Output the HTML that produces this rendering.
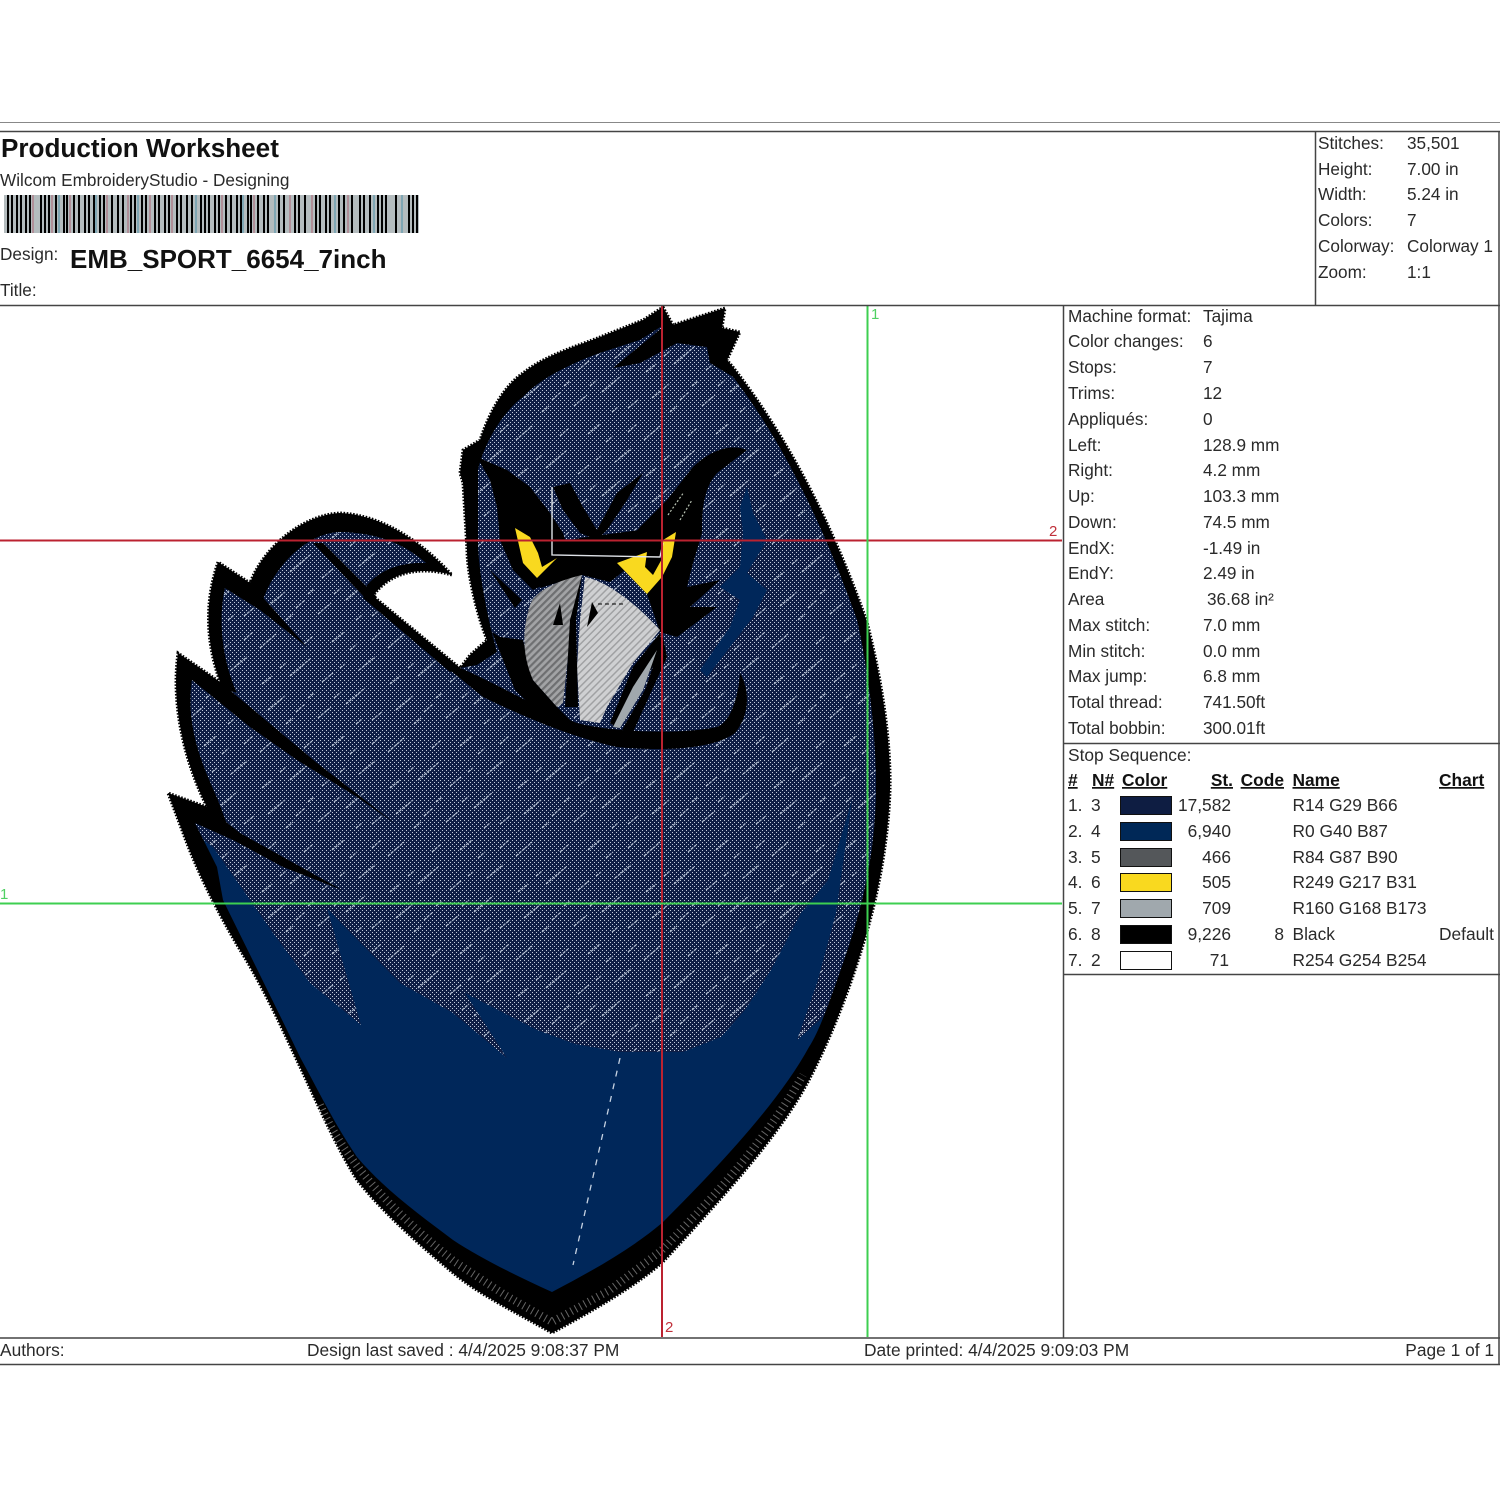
<!DOCTYPE html>
<html><head><meta charset="utf-8"><style>
html,body{margin:0;padding:0;background:#fff}
svg{display:block}
text{font-family:"Liberation Sans",Arial,sans-serif;font-size:17.2px;fill:#2a2a2a}
.b{font-weight:bold;fill:#111}
.h{font-weight:bold;fill:#111;text-decoration:underline}
.e{text-anchor:end}
.s text{font-size:17.35px}
</style></head><body>
<svg xmlns="http://www.w3.org/2000/svg" width="1500" height="1495" viewBox="0 0 1500 1495">
<defs>
<pattern id="dots" patternUnits="userSpaceOnUse" width="4" height="4"><rect x="0" y="0" width="1" height="1" fill="#c0cadb"/><rect x="2" y="2" width="1" height="1" fill="#c0cadb"/></pattern>
<pattern id="streak" patternUnits="userSpaceOnUse" width="128" height="104">
<g stroke="#aab6ca" stroke-width="1.3" fill="none" stroke-dasharray="3 1">
<path d="M4 24l16-14M34 52l20-17M76 18l12-10M103 46l16-13M12 86l17-14M62 94l13-11M90 80l19-16M48 20l8-7M116 96l10-8M24 44l6-5M6 60l10-8M66 58l11-9M40 88l9-8M94 26l7-6M116 16l9-8M78 74l7-6M52 74l6-5M100 100l6-5M30 100l7-6M84 44l5-4"/>
</g></pattern>
<pattern id="hatchL" patternUnits="userSpaceOnUse" width="5" height="5" patternTransform="rotate(-45)"><rect width="5" height="5" fill="#a2a3a5"/><rect width="5" height="2.2" fill="#6e6f71"/></pattern>
<pattern id="hatchR" patternUnits="userSpaceOnUse" width="5" height="5" patternTransform="rotate(-45)"><rect width="5" height="5" fill="#cfd0d2"/><rect width="5" height="1.5" fill="#a0a1a3"/></pattern>
<path id="outer" d="M663 307L673 325L725 308L722 328L740 332L727 360L733 367C790 440 835 530 867 622C882 680 891 740 890 790C888 850 875 905 866 935C850 990 830 1040 809 1080C780 1135 725 1195 662 1263C630 1290 590 1312 552 1333C515 1312 480 1295 453 1273C420 1245 385 1215 357 1180C335 1145 318 1105 300 1067C285 1035 265 990 240 950C225 925 200 880 183 833L168 793L207 807C188 770 170 710 178 653L220 682C205 640 205 600 218 562L250 583C262 550 300 515 340 513C385 515 425 545 452 575C420 566 390 572 373 596L460 668L470 655L487 640C475 610 467 570 467 550L463 483L460 473L463 450L480 440C490 410 505 385 523 373C545 355 580 345 600 337L643 320Z"/>
<path id="inner" d="M662 326L677 343L707 347L710 363L733 377C785 445 825 530 857 620C868 670 876 730 876 790C875 850 865 900 843 963C830 1000 820 1030 809 1047C780 1100 725 1160 662 1223C630 1250 590 1272 552 1292C515 1275 480 1258 453 1240C420 1215 385 1190 357 1157C335 1125 318 1090 300 1057C280 1015 250 955 223 900L217 867L195 823L233 840L218 800C205 770 185 730 192 680L237 693C222 660 218 620 225 588L260 610C270 570 305 533 340 532C380 533 405 545 426 563C400 562 380 570 367 585L363 598L450 670L477 665L497 652C488 620 478 570 478 540L478 470C485 440 505 410 523 397C540 378 575 362 600 353L640 340Z"/>
<clipPath id="tex"><path d="M0 300H900V950L797 1040L817 983L836 913L852 800L828 880L801 913L771 970L745 1010L721 1037L683 1052L620 1052L575 1044L537 1030L465 993L507 1058L453 1013L400 983L338 920L327 908L361 1025L310 983L273 933L213 847L150 800H0Z"/></clipPath>
</defs>
<rect width="1500" height="1495" fill="#fff"/>

<!-- artwork -->
<use href="#outer" fill="#000"/>
<use href="#outer" fill="none" stroke="#000" stroke-width="3" stroke-dasharray="1.6 1.6"/>
<use href="#inner" fill="#00275a"/>
<g clip-path="url(#tex)">
<use href="#inner" fill="#0f1e45"/>
<use href="#inner" fill="url(#dots)"/>
<use href="#inner" fill="url(#streak)"/>
</g>
<path d="M747 487L753 513L767 540L747 573L767 590L753 617L733 643L707 677L700 670L730 627L740 600L720 587L740 567L743 533L740 507Z" fill="#00275a"/>
<path d="M320 1105C345 1160 390 1210 455 1262L505 1295L552 1322L610 1290L662 1250C705 1205 760 1150 803 1075" fill="none" stroke="#fff" stroke-opacity=".4" stroke-width="8" stroke-dasharray="1 4"/>
<path d="M620 1058L573 1265" stroke="#c6d2e2" stroke-width="1.3" stroke-dasharray="6 7" fill="none"/>

<!-- crest -->
<path d="M613 368L663 327L673 325L725 308L722 328L740 332L727 360L733 367L710 363L707 347L677 343L640 363Z" fill="#000"/>
<!-- wing feathers -->
<path d="M218 562L250 583L307 647L260 610L225 588Z" fill="#000"/>
<path d="M178 653L220 682L250 707L317 763L397 825L357 797L297 760L250 727L192 680Z" fill="#000"/>
<path d="M168 793L207 807L240 833L283 857L342 890L283 867L233 840L195 823Z" fill="#000"/>
<path d="M313 543L323 543L377 597L367 600Z" fill="#000"/>
<path d="M363 598L373 596L460 668L450 672Z" fill="#000"/>
<!-- main curve under beak -->
<path d="M460 668C490 680 530 705 577 723C610 732 680 735 717 727C730 722 738 700 740 673C750 690 750 715 735 733C715 748 670 752 617 747C570 737 520 715 483 697L450 670Z" fill="#000"/>
<!-- left socket -->
<path d="M477 457L507 470L530 487L550 513L563 533L573 563L560 577L533 590L513 570L500 540L497 507L490 480Z" fill="#000"/>
<path d="M490 570L522 600L515 608Z" fill="#000"/>
<!-- V brow -->
<path d="M553 487L570 483L583 507L597 530L617 493L643 473L627 500L607 530L597 540L580 533L563 510Z" fill="#000"/>
<!-- centre band -->
<path d="M550 545L580 538L640 530L660 535L625 570L610 582L582 575L540 588Z" fill="#000"/>
<!-- right socket + brow -->
<path d="M747 450C735 445 715 446 693 467L667 500L640 527L625 545L617 563L647 594L660 632L677 637L717 607L690 607L720 580L687 587L693 563L702 533C702 515 702 490 717 473Z" fill="#000"/>
<path d="M668 515L684 492M680 520L692 500" stroke="#b9c4b4" stroke-width="1.2" stroke-dasharray="2 2" fill="none"/>
<!-- eyes -->
<path d="M515 528L530 537L538 553L542 567L557 558L537 578L523 563Z" fill="#f9d91f"/>
<path d="M676 532L672 557L662 577L647 594L617 563L647 552L645 567L653 575L663 557L663 540Z" fill="#f9d91f"/>
<!-- beak -->
<path d="M492 632L500 637L523 640L533 680L557 707L572 722L540 714L515 690Z" fill="#000"/>
<path d="M582 575C560 580 535 590 530 605C522 630 522 655 533 680L557 707L563 703L572 620Z" fill="url(#hatchL)"/>
<path d="M585 577C610 582 640 608 660 630L633 663L607 707L600 723L580 720L577 667L580 620Z" fill="url(#hatchR)"/>
<path d="M582 575L570 620L565 707L578 707L576 620Z" fill="#000"/>
<path d="M560 603L553 625L563 625Z M592 602L587 627L598 613Z" fill="#000"/>
<path d="M598 604L623 604" stroke="#000" stroke-width="1" stroke-dasharray="4 3"/>
<path d="M660 633L633 667L610 723L617 728L640 687L663 650Z" fill="#000"/>
<path d="M657 650L633 687L613 727L620 728L643 690Z" fill="#a0a8ad"/>
<path d="M663 637L667 657L633 732L622 730L645 690Z" fill="#000"/>
<!-- running lines -->
<path d="M552 487V555L660 557L663 543" fill="none" stroke="#dfe3e8" stroke-width="1.4"/>

<!-- guide lines -->
<path d="M0 540.5H1062M662 306V1337" stroke="#bb2230" stroke-width="2" fill="none"/>
<path d="M867.5 306V1337M0 903.5H1062" stroke="#3dcf50" stroke-width="2" fill="none"/>
<text x="871" y="319" style="font-size:15px;fill:#4fd062">1</text>
<text x="1049" y="536" style="font-size:15px;fill:#c0303a">2</text>
<text x="0" y="899" style="font-size:15px;fill:#4fd062">1</text>
<text x="665" y="1332" style="font-size:15px;fill:#c0303a">2</text>

<!-- frame -->
<path d="M0 122.5H1500" stroke="#888" stroke-width="1" fill="none"/>
<path d="M0 131.5H1500M0 305.5H1500M0 1338H1500M0 1364.5H1500M1063.5 305V1338M1315.5 131V305M1063 743.5H1500M1063 974.5H1500M1499 131V1364" stroke="#444" stroke-width="1.5" fill="none"/>

<!-- header -->
<text x="1" y="157" class="b" style="font-size:26.1px">Production Worksheet</text>
<text x="0" y="186" style="font-size:17.2px">Wilcom EmbroideryStudio - Designing</text>
<rect x="4" y="195" width="415" height="38" fill="#b4bcbe"/>
<path d="M33 195v38M52 195v38M70 195v38M107 195v38M128 195v38M150 195v38M172 195v38M222 195v38M254 195v38M290 195v38M312 195v38M348 195v38" stroke="#b08f98" stroke-width="2" fill="none"/>
<path d="M59 195v38M96 195v38M138 195v38M196 195v38M243 195v38M275 195v38M335 195v38M374 195v38M402 195v38" stroke="#7fa6b3" stroke-width="2" fill="none"/>
<path d="M8 195v38M12 195v38M17 195v38M21 195v38M26 195v38M30 195v38M41 195v38M45 195v38M49 195v38M56 195v38M64 195v38M67 195v38M74 195v38M79 195v38M85 195v38M89 195v38M94 195v38M100 195v38M104 195v38M112 195v38M118 195v38M123 195v38M131 195v38M135 195v38M142 195v38M146 195v38M155 195v38M159 195v38M165 195v38M169 195v38M177 195v38M181 195v38M187 195v38M192 195v38M201 195v38M205 195v38M209 195v38M215 195v38M219 195v38M226 195v38M231 195v38M237 195v38M241 195v38M248 195v38M251 195v38M258 195v38M264 195v38M268 195v38M279 195v38M284 195v38M295 195v38M299 195v38M305 195v38M316 195v38M320 195v38M326 195v38M330 195v38M339 195v38M344 195v38M352 195v38M360 195v38M364 195v38M370 195v38M378 195v38M382 195v38M386 195v38M396 195v38M409 195v38M413 195v38M417 195v38" stroke="#000" stroke-width="2" fill="none"/>
<text x="0" y="260">Design:</text>
<text x="70" y="268" class="b" style="font-size:26px">EMB_SPORT_6654_7inch</text>
<text x="0" y="296">Title:</text>

<!-- top right -->
<text x="1318" y="149">Stitches:</text><text x="1407" y="149">35,501</text>
<text x="1318" y="175">Height:</text><text x="1407" y="175">7.00 in</text>
<text x="1318" y="200">Width:</text><text x="1407" y="200">5.24 in</text>
<text x="1318" y="226">Colors:</text><text x="1407" y="226">7</text>
<text x="1318" y="252">Colorway:</text><text x="1407" y="252">Colorway 1</text>
<text x="1318" y="278">Zoom:</text><text x="1407" y="278">1:1</text>

<!-- stats -->
<text x="1068" y="322">Machine format:</text><text x="1203" y="322">Tajima</text>
<text x="1068" y="347">Color changes:</text><text x="1203" y="347">6</text>
<text x="1068" y="373">Stops:</text><text x="1203" y="373">7</text>
<text x="1068" y="399">Trims:</text><text x="1203" y="399">12</text>
<text x="1068" y="425">Appliqués:</text><text x="1203" y="425">0</text>
<text x="1068" y="451">Left:</text><text x="1203" y="451">128.9 mm</text>
<text x="1068" y="476">Right:</text><text x="1203" y="476">4.2 mm</text>
<text x="1068" y="502">Up:</text><text x="1203" y="502">103.3 mm</text>
<text x="1068" y="528">Down:</text><text x="1203" y="528">74.5 mm</text>
<text x="1068" y="554">EndX:</text><text x="1203" y="554">-1.49 in</text>
<text x="1068" y="579">EndY:</text><text x="1203" y="579">2.49 in</text>
<text x="1068" y="605">Area</text><text x="1207" y="605">36.68 in²</text>
<text x="1068" y="631">Max stitch:</text><text x="1203" y="631">7.0 mm</text>
<text x="1068" y="657">Min stitch:</text><text x="1203" y="657">0.0 mm</text>
<text x="1068" y="682">Max jump:</text><text x="1203" y="682">6.8 mm</text>
<text x="1068" y="708">Total thread:</text><text x="1203" y="708">741.50ft</text>
<text x="1068" y="734">Total bobbin:</text><text x="1203" y="734">300.01ft</text>

<!-- stop sequence -->
<g class="s">
<text x="1068" y="761">Stop Sequence:</text>
<text x="1068" y="786" class="h">#</text><text x="1092" y="786" class="h">N#</text><text x="1122" y="786" class="h">Color</text><text x="1233" y="786" class="h e">St.</text><text x="1284" y="786" class="h e">Code</text><text x="1292.5" y="786" class="h">Name</text><text x="1439" y="786" class="h">Chart</text>
<g stroke="#111" stroke-width="1">
<rect x="1120.5" y="796.5" width="51" height="18" fill="#0e1d42"/>
<rect x="1120.5" y="822.5" width="51" height="18" fill="#002857"/>
<rect x="1120.5" y="848.5" width="51" height="18" fill="#54575a"/>
<rect x="1120.5" y="873.5" width="51" height="18" fill="#f9d91f"/>
<rect x="1120.5" y="899.5" width="51" height="18" fill="#a0a8ad"/>
<rect x="1120.5" y="925.5" width="51" height="18" fill="#000"/>
<rect x="1120.5" y="951.5" width="51" height="18" fill="#fefefe"/>
</g>
<text x="1068" y="811">1.</text><text x="1091" y="811">3</text><text x="1231" y="811" class="e">17,582</text><text x="1292.5" y="811">R14 G29 B66</text>
<text x="1068" y="837">2.</text><text x="1091" y="837">4</text><text x="1231" y="837" class="e">6,940</text><text x="1292.5" y="837">R0 G40 B87</text>
<text x="1068" y="863">3.</text><text x="1091" y="863">5</text><text x="1231" y="863" class="e">466</text><text x="1292.5" y="863">R84 G87 B90</text>
<text x="1068" y="888">4.</text><text x="1091" y="888">6</text><text x="1231" y="888" class="e">505</text><text x="1292.5" y="888">R249 G217 B31</text>
<text x="1068" y="914">5.</text><text x="1091" y="914">7</text><text x="1231" y="914" class="e">709</text><text x="1292.5" y="914">R160 G168 B173</text>
<text x="1068" y="940">6.</text><text x="1091" y="940">8</text><text x="1231" y="940" class="e">9,226</text><text x="1284" y="940" class="e">8</text><text x="1292.5" y="940">Black</text><text x="1439" y="940">Default</text>
<text x="1068" y="966">7.</text><text x="1091" y="966">2</text><text x="1229" y="966" class="e">71</text><text x="1292.5" y="966">R254 G254 B254</text>
</g>

<!-- footer -->
<g class="s">
<text x="0" y="1356">Authors:</text>
<text x="307" y="1356">Design last saved : 4/4/2025 9:08:37 PM</text>
<text x="864" y="1356">Date printed: 4/4/2025 9:09:03 PM</text>
<text x="1494" y="1356" class="e">Page 1 of 1</text>
</g>
</svg>
</body></html>
